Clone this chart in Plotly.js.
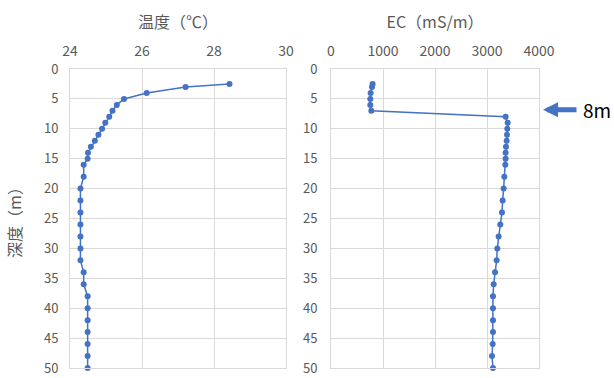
<!DOCTYPE html>
<html><head><meta charset="utf-8">
<script src="https://cdn.plot.ly/plotly-3.0.1.min.js"></script>
<style>html,body{margin:0;padding:0;background:#fff}</style>
</head><body>
<div id="chart" style="width:614px;height:378px"></div>
<script>
const tempDepth = [2.5,3,4,5,6,7,8,9,10,11,12,13,14,15,16,18,20,22,24,26,28,30,32,34,36,38,40,42,44,46,48,50];
const tempValues = [28.43,27.21,26.13,25.5,25.3,25.18,25.09,24.98,24.89,24.79,24.69,24.58,24.5,24.49,24.38,24.38,24.29,24.29,24.29,24.29,24.29,24.29,24.29,24.38,24.38,24.49,24.49,24.49,24.49,24.49,24.49,24.49];
const ecDepth = [2.5,3,4,5,6,7,8,9,10,11,12,13,14,15,16,18,20,22,24,26,28,30,32,34,36,38,40,42,44,46,48,50];
const ecValues = [800,788,762,756,756,775,3358,3397,3391,3385,3378,3365,3358,3358,3352,3333,3320,3301,3288,3256,3224,3198,3185,3154,3128,3115,3115,3115,3115,3109,3096,3115];
const tempTicks = [24,26,28,30];
const ecTicks = [0,1000,2000,3000,4000];
const depthTicks = [0,5,10,15,20,25,30,35,40,45,50];

const blue = '#4472C4';
const font = "'Noto Sans CJK JP', 'Noto Sans', sans-serif";
const traces = [
  {x: tempValues, y: tempDepth, xaxis:'x', yaxis:'y', mode:'lines+markers', type:'scatter',
   line:{color:blue, width:1.5}, marker:{color:blue, size:6}, showlegend:false, cliponaxis:false},
  {x: ecValues, y: ecDepth, xaxis:'x2', yaxis:'y2', mode:'lines+markers', type:'scatter',
   line:{color:blue, width:1.5}, marker:{color:blue, size:6}, showlegend:false, cliponaxis:false}
];
const axCommon = {showgrid:true, gridcolor:'#d9d9d9', gridwidth:1, zeroline:false, showline:true,
  linecolor:'#d9d9d9', mirror:true, ticks:'', ticklabeloverflow:'allow',
  tickfont:{size:14, color:'#595959', family:font}};
const yTickFont = {size:13, color:'#595959', family:font};
const titleFont = {size:16, color:'#595959', family:font};
const yDomain = [10/378, 309/378];
const layout = {
  width:614, height:378, margin:{l:0,r:0,t:0,b:0},
  paper_bgcolor:'#fff', plot_bgcolor:'#fff', font:{family:font},
  xaxis: Object.assign({}, axCommon, {domain:[70/614, 286/614], range:[24,30], side:'top',
    tickvals: tempTicks, anchor:'y', ticklabelstandoff:6,
    title:{text:'温度（℃）', font:titleFont, standoff:7}}),
  yaxis: Object.assign({}, axCommon, {domain:yDomain, range:[50,0], tickvals: depthTicks,
    anchor:'x', ticklabelstandoff:8, tickfont:yTickFont,
    title:{text:'深度（m）', font:titleFont, standoff:18}}),
  xaxis2: Object.assign({}, axCommon, {domain:[331/614, 539/614], range:[0,4000], side:'top',
    tickvals: ecTicks, anchor:'y2', ticklabelstandoff:6,
    title:{text:'EC（mS/m）', font:titleFont, standoff:7}}),
  yaxis2: Object.assign({}, axCommon, {domain:yDomain, range:[50,0], tickvals: depthTicks,
    anchor:'x2', ticklabelstandoff:10, tickfont:yTickFont}),
  annotations:[
    {xref:'paper', yref:'y2', x:543/614, y:6.8, ax:578/614, ay:6.8, axref:'paper', ayref:'y2',
     showarrow:true, arrowhead:2, arrowsize:0.6, arrowwidth:5, arrowcolor:blue, text:''},
    {xref:'paper', yref:'y2', x:581/614, y:6.8, xanchor:'left', yanchor:'middle', showarrow:false,
     text:'8m', font:{size:19, color:'#000', family:font}}
  ]
};
Plotly.newPlot('chart', traces, layout, {displayModeBar:false, staticPlot:true});
</script>
</body></html>
